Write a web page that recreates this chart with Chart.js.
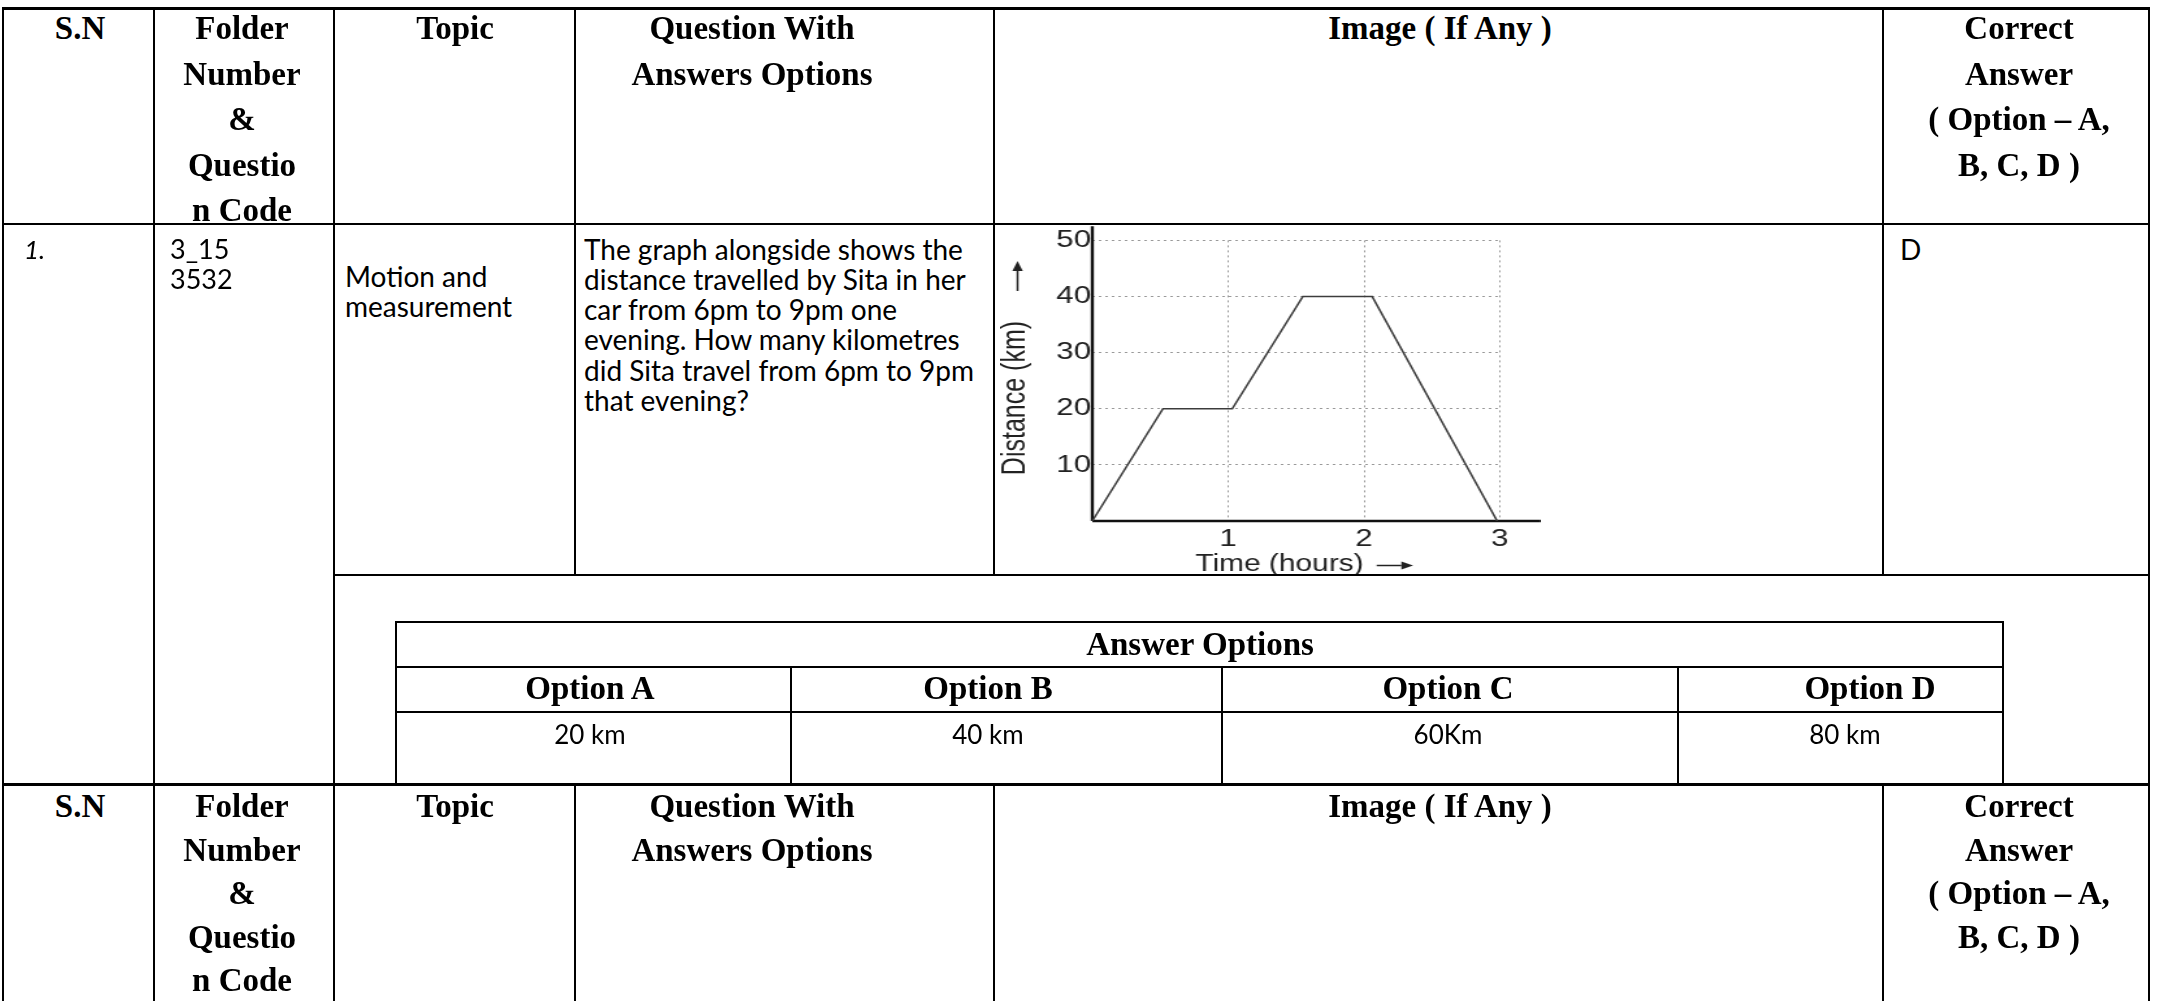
<!DOCTYPE html>
<html>
<head>
<meta charset="utf-8">
<script src="https://cdn.jsdelivr.net/npm/chart.js@4"></script>
<style>
  body { margin: 0; background: #fff; }
  #page { position: relative; width: 2161px; height: 1001px; overflow: hidden; background: #fff; }
  .ln { position: absolute; background: #000; }
  .hd { position: absolute; font-family: 'Liberation Serif', serif; font-weight: bold; font-size: 33px; line-height: 45.5px; text-align: center; white-space: nowrap; color: #000; }
  .hd2 { line-height: 43.6px; }
  .big { font-size: 33px; line-height: 45px; }
  .tx { position: absolute; font-family: Lato, sans-serif; font-size: 28px; line-height: 30.3px; white-space: nowrap; color: #000; }
  .it { font-style: italic; font-size: 26px; }
  .fold { font-size: 27px; }
  .val { font-size: 26px; line-height: 30px; text-align: center; }
  #chartBox { position: absolute; left: 1000px; top: 225px; width: 416px; height: 351px; transform: scaleX(1.3); transform-origin: 0 0; }
</style>
</head>
<body>
<div id="page">
  <div id="chartBox"><canvas id="graph" width="416" height="351"></canvas></div>
</div>
<script>
// distance-time graph
const hours = [0, 0.52, 1.03, 1.55, 2.06, 2.98];
const distanceKm = [0, 20, 20, 40, 40, 0];
const hourTicks = [1, 2, 3];
const distanceTicks = [10, 20, 30, 40, 50];
const xAxisEnd = 3.3;
const yAxisTop = 52.5;
const xTitle = 'Time (hours)';
const yTitle = 'Distance (km)';

const headerCols = [
    { cx: 80, lines: ['S.N'] },
    { cx: 242, lines: ['Folder', 'Number', '&amp;', 'Questio', 'n Code'] },
    { cx: 455, lines: ['Topic'] },
    { cx: 752, lines: ['Question With', 'Answers Options'] },
    { cx: 1440, lines: ['Image ( If Any )'] },
    { cx: 2019, lines: ['Correct', 'Answer', '( Option – A,', 'B, C, D )'] }
];
const optionNames = ['Option A', 'Option B', 'Option C', 'Option D'];
const optionValues = ['20 km', '40 km', '60Km', '80 km'];

const page = document.getElementById('page');

function line(x, y, w, h) {
    const d = document.createElement('div');
    d.className = 'ln';
    d.style.cssText = `left:${x}px;top:${y}px;width:${w}px;height:${h}px`;
    page.appendChild(d);
}

function put(cls, html, left, top, width) {
    const d = document.createElement('div');
    d.className = cls;
    d.innerHTML = html;
    d.style.left = left + 'px';
    d.style.top = top + 'px';
    if (width) d.style.width = width + 'px';
    page.appendChild(d);
}

// outer table
line(3, 7, 2147, 3);
line(3, 223, 2147, 2);
line(334, 574, 1816, 2);
line(3, 783, 2147, 3);
line(2, 7, 2, 994);
line(153, 7, 2, 994);
line(333, 7, 2, 994);
line(2148, 7, 2, 994);
[575, 994, 1883].forEach(x => {
    line(x - 1, 7, 2, 569);
    line(x - 1, 783, 2, 218);
});

// answer options box
line(395, 621, 1609, 2);
line(395, 666, 1609, 2);
line(395, 711, 1609, 2);
line(395, 783, 1609, 3);
line(395, 621, 2, 164);
line(2002, 621, 2, 164);
[791, 1222, 1678].forEach(x => line(x - 1, 666, 2, 118));

// headers (two copies)
headerCols.forEach(c => put('hd', c.lines.join('<br>'), c.cx - 200, 6, 400));
headerCols.forEach(c => put('hd hd2', c.lines.join('<br>'), c.cx - 200, 785, 400));

// row 1
const rowTop = 233.5;
put('tx it', '1.', 24, rowTop);
put('tx fold', '3_15<br>3532', 170, rowTop);
put('tx', 'Motion and<br>measurement', 345, rowTop + 27);
put('tx', [
    'The graph alongside shows the',
    'distance travelled by Sita in her',
    'car from 6pm to 9pm one',
    'evening. How many kilometres',
    'did Sita travel from 6pm to 9pm',
    'that evening?'
].join('<br>'), 584, rowTop);
put('tx', 'D', 1900, rowTop);

// answer options
put('hd big', 'Answer Options', 995, 622, 410);
const headCx = [590, 988, 1448, 1870];
const valCx = [590, 988, 1448, 1845];
optionNames.forEach((n, i) => put('hd big', n, headCx[i] - 150, 666, 300));
optionValues.forEach((v, i) => put('tx val', v, valCx[i] - 150, 719, 300));

// chart
const tickFont = { family: 'Liberation Sans', size: 24 };
const xTitleFont = { family: 'Liberation Sans', size: 23, lineHeight: 1 };
const yTitleFont = { family: 'Liberation Sans', size: 25, lineHeight: 1 };
const xLead = '  ';
const yLead = '    ';
const xTitleText = xLead + xTitle + '      ';
const yTitleText = yLead + yTitle + '         ';

function drawArrow(ctx, x0, y0, x1, y1, head, half) {
    const len = Math.hypot(x1 - x0, y1 - y0);
    const ux = (x1 - x0) / len, uy = (y1 - y0) / len;
    const bx = x1 - ux * head, by = y1 - uy * head;
    ctx.beginPath();
    ctx.moveTo(x0, y0);
    ctx.lineTo(bx, by);
    ctx.stroke();
    ctx.beginPath();
    ctx.moveTo(x1, y1);
    ctx.lineTo(bx - uy * half, by + ux * half);
    ctx.lineTo(bx + uy * half, by - ux * half);
    ctx.closePath();
    ctx.fill();
}

// arrows after the axis titles, placed from the laid-out scales
const titleArrows = {
    id: 'titleArrows',
    afterDraw(chart) {
        const ctx = chart.ctx;
        const xs = chart.scales.x, ys = chart.scales.y;
        ctx.save();
        ctx.strokeStyle = '#222';
        ctx.fillStyle = '#222';
        ctx.lineWidth = 1.5;

        ctx.font = `${xTitleFont.size}px "${xTitleFont.family}"`;
        const xFull = ctx.measureText(xTitleText).width;
        const xWordEnd = ctx.measureText(xLead + xTitle).width;
        const xStart = (xs.left + xs.right) / 2 - xFull / 2 + xWordEnd + 10;
        const xy = xs.bottom - xTitleFont.size / 2 + 1;
        drawArrow(ctx, xStart, xy, xStart + 28, xy, 9, 4);

        ctx.font = `${yTitleFont.size}px "${yTitleFont.family}"`;
        const yFull = ctx.measureText(yTitleText).width;
        const yWordEnd = ctx.measureText(yLead + yTitle).width;
        const yStart = (ys.top + ys.bottom) / 2 + yFull / 2 - yWordEnd - 30;
        const yx = ys.left + yTitleFont.size / 2 + 1;
        drawArrow(ctx, yx, yStart, yx, yStart - 30, 10, 4);
        ctx.restore();
    }
};

new Chart(document.getElementById('graph'), {
    type: 'scatter',
    data: {
        datasets: [
            {
                data: hours.map((h, i) => ({ x: h, y: distanceKm[i] })),
                showLine: true, borderColor: '#3c3c3c', borderWidth: 1.6,
                pointRadius: 0, clip: false
            },
            {
                data: [{ x: 0, y: 0 }, { x: xAxisEnd, y: 0 }],
                showLine: true, borderColor: '#111', borderWidth: 2.6,
                pointRadius: 0, clip: false
            },
            {
                data: [{ x: 0, y: 0 }, { x: 0, y: yAxisTop }],
                showLine: true, borderColor: '#111', borderWidth: 2.4,
                pointRadius: 0, clip: false
            }
        ]
    },
    options: {
        responsive: false,
        animation: false,
        events: [],
        layout: { padding: { top: 14, right: 31.5, left: 0, bottom: 0 } },
        plugins: { legend: { display: false }, tooltip: { enabled: false } },
        scales: {
            x: {
                type: 'linear', min: 0, max: 3,
                afterBuildTicks: s => { s.ticks = hourTicks.map(v => ({ value: v })); },
                afterFit: s => { s.height = 55; },
                grid: { color: '#9a9a9a', lineWidth: 1, drawTicks: false },
                border: { display: false, dash: [2, 3] },
                ticks: { color: '#222', padding: 4, font: tickFont, autoSkip: false, maxRotation: 0 },
                title: {
                    display: true, text: xTitleText, color: '#222',
                    font: xTitleFont, padding: { top: 0, bottom: 0 }
                }
            },
            y: {
                type: 'linear', min: 0, max: 50,
                afterBuildTicks: s => { s.ticks = distanceTicks.map(v => ({ value: v })); },
                afterFit: s => { s.width = 71; },
                grid: { color: '#9a9a9a', lineWidth: 1, drawTicks: false },
                border: { display: false, dash: [2, 3] },
                ticks: { color: '#222', padding: 1, font: tickFont, autoSkip: false },
                title: {
                    display: true, text: yTitleText, color: '#222',
                    font: yTitleFont, padding: { top: 0, bottom: 0 }
                }
            }
        }
    },
    plugins: [titleArrows]
});
</script>
</body>
</html>
